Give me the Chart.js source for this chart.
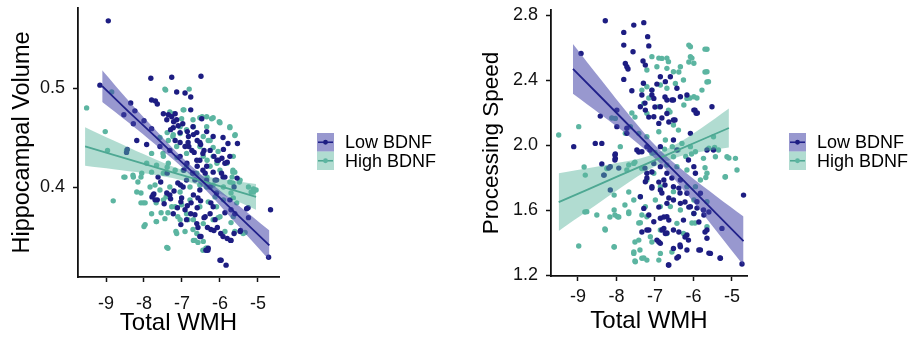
<!DOCTYPE html>
<html><head><meta charset="utf-8">
<script src="https://cdn.jsdelivr.net/npm/chart.js@4.4.1/dist/chart.umd.min.js"></script>
<style>
html,body{margin:0;padding:0;background:#fff;}
#wrap{position:relative;width:918px;height:338px;overflow:hidden;}
canvas{position:absolute;top:0;}
</style>
</head><body>
<div id="wrap">
<canvas id="c1" width="459" height="338" style="left:0px"></canvas>
<canvas id="c2" width="459" height="338" style="left:459px"></canvas>
</div>
<script>
// ---------- categories / labels ----------
const seriesNames = ['Low BDNF', 'High BDNF'];
const xTitle = 'Total WMH';
const yTitleHV = 'Hippocampal Volume';
const yTitlePS = 'Processing Speed';
const xTicks = [-9, -8, -7, -6, -5];
const yTicksHV = [0.4, 0.5];
const yTicksPS = [1.2, 1.6, 2.0, 2.4, 2.8];

// ---------- Hippocampal Volume: points ----------
const hvLow = [[-8.94,.568],[-9.16,.503],[-7.82,.510],[-7.27,.511],[-6.50,.512],[-7.14,.496],[-6.92,.495],[-6.77,.491],[-7.80,.488],[-7.70,.487],[-7.65,.484],[-8.35,.485],[-8.24,.477],[-8.53,.473],[-8.28,.464],[-8.00,.467],[-7.80,.459],[-8.19,.447],[-7.93,.443],[-8.44,.438],[-8.46,.435],[-7.49,.474],[-7.36,.473],[-7.27,.471],[-7.18,.474],[-7.40,.468],[-7.14,.468],[-6.77,.478],[-6.48,.469],[-7.23,.460],[-6.98,.464],[-6.86,.456],[-6.83,.451],[-6.70,.453],[-6.60,.447],[-6.51,.443],[-6.82,.441],[-6.68,.435],[-6.42,.437],[-6.18,.451],[-5.91,.438],[-5.81,.425],[-6.16,.431],[-6.04,.427],[-6.35,.421],[-5.54,.444],[-6.60,.421],[-6.95,.417],[-7.39,.414],[-7.56,.405],[-7.74,.393],[-7.79,.390],[-7.65,.387],[-7.47,.383],[-7.30,.388],[-7.21,.396],[-7.04,.402],[-7.12,.379],[-6.86,.381],[-6.77,.373],[-6.60,.379],[-6.51,.386],[-6.42,.369],[-6.33,.359],[-6.16,.356],[-6.07,.359],[-5.98,.353],[-5.81,.348],[-5.72,.346],[-5.63,.353],[-5.46,.356],[-5.25,.369],[-5.30,.378],[-4.67,.377],[-4.72,.329],[-6.00,.326],[-5.84,.321],[-6.31,.338],[-6.37,.336],[-7.01,.389],[-6.70,.392],[-6.53,.397],[-6.26,.400],[-6.09,.407],[-5.96,.414],[-5.74,.387],[-5.61,.373],[-6.18,.380],[-6.88,.367],[-6.61,.363],[-6.26,.373],[-7.23,.373],[-7.40,.394],[-7.05,.431],[-6.92,.441],[-7.18,.447],[-7.32,.437],[-6.53,.427],[-5.74,.431],[-6.35,.407],[-6.88,.407],[-7.58,.441],[-6.72,.414],[-6.09,.394],[-6.53,.350],[-5.63,.400],
 [-7.22,.466],[-7.10,.462],[-7.30,.458],[-7.05,.455],[-6.35,.456],[-5.92,.450],[-5.79,.444],[-6.71,.461],[-6.61,.455],[-6.84,.445],[-6.53,.445],[-7.05,.445],[-6.74,.437],[-6.45,.434],[-6.26,.437],[-6.08,.427],[-5.95,.429],[-5.87,.424],[-6.61,.427],[-6.87,.424],[-6.45,.417],[-6.18,.415],[-5.92,.410],[-5.55,.409],
 [-7.63,.410],[-7.11,.404],[-6.97,.400],[-6.66,.407],[-6.39,.414],[-6.13,.407],[-5.87,.410],[-7.76,.392],[-7.71,.387],[-7.32,.392],[-7.03,.385],[-6.76,.384],[-6.58,.389],[-6.24,.384],[-6.92,.377],[-6.66,.372],[-6.39,.370],[-6.13,.367],[-5.87,.374],[-5.71,.377],[-5.26,.379],[-7.03,.362],[-6.58,.359],[-6.24,.357],[-5.92,.350],[-5.71,.346],[-6.50,.350],[-6.32,.336],[-5.97,.326],[-5.47,.355]];
const hvHigh = [[-9.51,.480],[-8.85,.496],[-9.02,.456],[-8.96,.437],[-8.81,.386],[-8.46,.437],[-8.53,.410],[-7.93,.424],[-8.06,.414],[-8.02,.384],[-8.00,.360],[-7.67,.365],[-7.43,.498],[-6.81,.499],[-7.23,.474],[-6.95,.478],[-7.01,.469],[-6.53,.470],[-6.35,.471],[-6.22,.469],[-6.02,.466],[-5.74,.461],[-5.60,.453],[-6.70,.461],[-6.88,.458],[-7.23,.453],[-7.36,.447],[-7.14,.441],[-6.44,.451],[-6.31,.447],[-6.05,.436],[-6.44,.431],[-7.49,.431],[-7.67,.422],[-7.80,.415],[-7.36,.424],[-7.49,.414],[-7.18,.417],[-6.88,.421],[-6.61,.414],[-6.26,.421],[-6.00,.417],[-5.61,.415],[-5.49,.405],[-5.25,.400],[-5.05,.397],[-5.74,.405],[-6.18,.402],[-6.53,.402],[-6.79,.400],[-7.05,.395],[-7.32,.400],[-7.58,.397],[-7.84,.400],[-7.49,.387],[-7.27,.380],[-7.01,.382],[-6.79,.387],[-6.53,.380],[-6.31,.385],[-6.09,.380],[-5.91,.387],[-5.65,.389],[-5.56,.384],[-6.88,.373],[-6.70,.367],[-6.44,.363],[-6.18,.367],[-6.00,.370],[-6.61,.353],[-6.70,.346],[-6.44,.345],[-6.35,.338],[-7.14,.353],[-7.40,.339],[-6.92,.355],[-7.80,.373],[-7.45,.368],[-7.05,.367],[-5.65,.370],[-5.39,.353],[-5.12,.395],[-6.18,.431],[-5.65,.431],[-6.88,.434],[-6.53,.441],[-7.58,.450],[-7.05,.454],[-6.35,.461],[-5.82,.424],[-8.28,.410],[-7.80,.434],[-6.35,.400],[-5.91,.400],[-5.12,.398],[-8.19,.395],
 [-7.45,.499],[-6.97,.478],[-7.32,.476],[-6.47,.471],[-6.18,.470],[-6.00,.465],[-5.74,.460],[-5.61,.452],[-6.71,.468],[-7.05,.461],[-7.39,.455],[-7.24,.451],[-6.26,.447],[-6.18,.440],[-7.50,.434],[-7.13,.430],[-6.34,.427],[-6.08,.424],[-5.66,.417],[-7.39,.420],[-6.97,.417],[-6.71,.414],[-6.34,.410],[-5.68,.410],
 [-8.50,.410],[-8.29,.412],[-8.08,.410],[-8.16,.405],[-7.71,.402],[-8.08,.394],[-7.97,.384],[-8.08,.384],[-7.68,.384],[-7.42,.390],[-7.55,.374],[-7.37,.374],[-7.97,.362],[-7.68,.365],[-7.18,.380],[-7.11,.370],[-6.84,.367],[-6.71,.357],[-7.16,.355],[-6.66,.346],[-6.58,.344],[-7.37,.338],[-6.45,.336],[-6.37,.338],[-6.05,.369],[-5.87,.355],[-5.61,.355],[-5.34,.354],[-5.71,.364],[-6.13,.390],[-5.71,.394],[-5.18,.395],[-5.66,.404],[-5.47,.407],[-5.66,.415]];

// ---------- Hippocampal Volume: fitted lines and 95% bands ----------
const hvLowFitX   = [-9.10, -8.40, -7.70, -7.00, -6.30, -5.60, -4.70];
const hvLowFit    = [0.502, 0.476, 0.451, 0.425, 0.400, 0.374, 0.341];
const hvLowUpper  = [0.518, 0.487, 0.458, 0.430, 0.406, 0.384, 0.356];
const hvLowLower  = [0.486, 0.465, 0.443, 0.420, 0.394, 0.364, 0.326];
const hvHighFitX  = [-9.55, -8.80, -8.00, -7.25, -6.50, -5.80, -5.05];
const hvHighFit   = [0.441, 0.4325, 0.4234, 0.4149, 0.4064, 0.3985, 0.390];
const hvHighUpper = [0.4605, 0.447, 0.433, 0.4208, 0.4118, 0.407, 0.403];
const hvHighLower = [0.4215, 0.418, 0.414, 0.409, 0.401, 0.390, 0.377];

// ---------- Processing Speed: points ----------
const psLow = [[-8.29,2.765],[-7.81,2.693],[-7.55,2.738],[-7.29,2.753],[-7.81,2.615],[-7.57,2.574],[-7.19,2.667],[-7.16,2.610],[-8.92,2.564],[-7.77,2.502],[-7.73,2.482],[-7.70,2.468],[-7.81,2.404],[-7.31,2.517],[-7.25,2.492],[-7.60,2.334],[-7.34,2.308],[-7.38,2.236],[-7.25,2.215],[-7.08,2.308],[-7.03,2.287],[-6.86,2.420],[-6.73,2.390],[-6.60,2.420],[-6.43,2.349],[-6.34,2.297],[-6.69,2.277],[-6.52,2.277],[-6.17,2.308],[-6.86,2.236],[-6.69,2.194],[-7.03,2.174],[-6.90,2.133],[-6.52,2.154],[-5.99,2.215],[-5.93,2.195],[-5.52,2.236],[-8.42,2.178],[-7.99,2.215],[-7.99,2.113],[-7.73,2.103],[-7.73,2.072],[-9.11,1.990],[-8.55,2.010],[-8.38,2.010],[-8.03,1.945],[-8.03,1.918],[-8.38,1.883],[-8.33,1.815],[-8.16,1.867],[-7.47,1.969],[-7.34,1.959],[-7.21,1.990],[-6.86,1.990],[-6.43,1.969],[-7.03,1.887],[-6.86,1.867],[-6.69,1.826],[-6.77,1.785],[-7.21,1.826],[-7.25,1.774],[-7.08,1.744],[-6.86,1.723],[-6.52,1.744],[-6.34,1.785],[-5.99,1.867],[-5.95,1.826],[-5.65,1.969],[-6.13,1.908],[-6.17,1.703],[-6.34,1.641],[-6.08,1.620],[-5.91,1.651],[-5.74,1.600],[-5.99,1.579],[-6.69,1.559],[-6.86,1.549],[-7.03,1.528],[-7.21,1.477],[-6.77,1.487],[-6.73,1.456],[-6.52,1.477],[-6.26,1.538],[-6.17,1.446],[-6.13,1.415],[-5.65,1.477],[-5.65,1.426],[-6.95,1.415],[-6.86,1.395],[-6.52,1.364],[-6.34,1.374],[-6.39,1.313],[-6.65,1.262],[-5.82,1.354],[-5.56,1.333],[-5.30,1.303],[-5.26,1.487],[-4.70,1.692],[-4.74,1.268],[-5.48,1.969],[-7.29,1.610],[-6.69,1.641],[-6.52,1.662],[-5.82,1.703],[-7.38,1.682],[-6.08,2.072],[-6.52,2.031],[-8.16,1.723],
 [-7.30,2.380],[-6.95,2.375],[-7.08,2.338],[-6.74,2.296],[-6.56,2.277],[-7.26,2.258],[-7.00,2.234],[-7.16,2.172],[-6.82,2.166],[-6.64,2.142],[-6.48,2.154],[-5.96,2.215],[-5.90,2.197],
 [-8.04,1.938],[-8.04,1.908],[-8.20,1.858],[-7.94,1.858],[-8.32,1.815],[-7.42,1.957],[-7.13,1.969],[-7.26,1.858],[-7.08,1.834],[-7.21,1.797],[-6.90,1.772],[-6.74,1.754],[-6.56,1.797],[-6.38,1.735],[-7.08,1.735],[-6.82,1.705],[-6.64,1.674],[-6.35,1.705],[-6.22,1.649],[-6.12,1.618],[-6.90,1.618],[-6.77,1.557],[-6.64,1.538],[-7.16,1.569],[-7.34,1.465],[-7.16,1.477],[-6.82,1.477],[-6.69,1.459],[-6.38,1.465],[-6.22,1.434],[-6.90,1.403],[-6.35,1.385],[-6.17,1.354],[-5.86,1.354],[-5.60,1.335],[-6.64,1.262],[-6.43,1.305],[-5.86,1.526],[-5.73,1.569],[-5.60,1.588],[-5.91,1.612],[-5.70,1.465],[-5.31,1.305]];
const psHigh = [[-9.50,2.062],[-8.98,2.113],[-8.98,1.379],[-8.81,1.815],[-8.77,1.590],[-8.51,1.569],[-8.29,1.477],[-8.06,1.374],[-8.06,1.600],[-7.97,1.559],[-8.03,2.164],[-7.64,2.113],[-7.77,2.072],[-7.55,1.887],[-7.73,1.846],[-7.68,1.579],[-7.55,1.333],[-7.51,1.282],[-7.34,1.303],[-7.42,1.415],[-7.38,1.522],[-7.21,1.559],[-7.25,1.621],[-7.12,1.436],[-6.90,1.292],[-6.86,1.333],[-7.21,1.292],[-7.08,2.544],[-6.82,2.533],[-6.65,2.513],[-7.21,2.462],[-6.95,2.482],[-6.69,2.472],[-6.52,2.451],[-6.34,2.482],[-6.08,2.605],[-6.08,2.544],[-5.99,2.503],[-5.65,2.589],[-5.65,2.451],[-5.61,2.390],[-7.21,2.359],[-7.08,2.338],[-6.86,2.369],[-6.69,2.349],[-6.47,2.379],[-6.26,2.400],[-6.17,2.287],[-5.99,2.297],[-7.29,2.256],[-7.21,2.195],[-6.90,2.236],[-6.65,2.215],[-6.52,2.123],[-6.39,2.092],[-6.90,2.082],[-6.73,2.031],[-7.21,2.051],[-7.42,2.072],[-6.30,2.010],[-6.08,1.990],[-5.95,1.959],[-5.74,1.918],[-5.43,1.928],[-5.13,1.928],[-4.91,1.918],[-5.35,1.969],[-5.65,1.826],[-6.17,1.846],[-6.43,1.867],[-6.69,1.877],[-7.03,1.826],[-7.34,1.856],[-7.21,1.785],[-6.86,1.744],[-6.52,1.713],[-6.17,1.744],[-5.95,1.744],[-5.82,1.785],[-5.65,1.651],[-5.99,1.579],[-6.34,1.600],[-6.60,1.621],[-6.86,1.621],[-6.99,1.662],[-7.38,1.682],[-7.55,1.662],[-5.17,1.805],[-4.87,1.846],[-5.65,1.497],[-6.26,1.456],[-6.43,1.518],[-6.69,1.456],[-6.86,1.477],[-5.99,1.662],[-7.90,1.990],[-8.25,1.856],[-7.08,1.949],[-6.52,1.928],[-5.48,2.051],
 [-6.12,2.615],[-5.70,2.590],[-6.90,2.535],[-6.69,2.535],[-6.38,2.449],[-6.12,2.511],[-6.04,2.535],[-5.70,2.449],[-5.65,2.388],[-5.78,2.338],[-6.09,2.289],[-5.91,2.289],[-6.25,2.246],[-6.61,2.203],[-7.60,2.197],[-7.34,2.338],[-7.16,2.289],[-7.52,2.172],[-8.12,2.166],
 [-8.84,1.865],[-7.68,1.877],[-7.52,1.895],[-7.34,1.858],[-7.68,1.711],[-8.06,1.692],[-7.78,1.631],[-7.68,1.588],[-8.04,1.569],[-7.94,1.557],[-8.17,1.557],[-8.82,1.588],[-8.30,1.483],[-8.06,1.372],[-7.52,1.403],[-7.39,1.354],[-7.55,1.342],[-7.52,1.286],[-7.29,1.305],[-7.08,1.403],[-6.56,1.342],[-7.42,1.520],[-7.34,1.569],[-6.04,1.520],[-5.96,1.520],[-7.00,1.955],[-6.75,1.975],[-6.55,1.990],[-6.40,1.970],[-5.60,1.980],[-5.45,1.985],[-5.08,1.920],[-5.18,1.803],[-5.70,1.860],[-5.68,1.800],[-6.20,1.930],[-6.05,1.945]];

// ---------- Processing Speed: fitted lines and 95% bands ----------
const psLowFitX   = [-9.13, -8.40, -7.65, -6.90, -6.15, -5.40, -4.70];
const psLowFit    = [2.468, 2.294, 2.114, 1.935, 1.756, 1.577, 1.409];
const psLowUpper  = [2.621, 2.401, 2.178, 1.975, 1.820, 1.684, 1.560];
const psLowLower  = [2.315, 2.186, 2.050, 1.895, 1.692, 1.469, 1.258];
const psHighFitX  = [-9.50, -8.75, -8.00, -7.25, -6.50, -5.80, -5.08];
const psHighFit   = [1.649, 1.726, 1.804, 1.881, 1.959, 2.031, 2.105];
const psHighUpper = [1.827, 1.857, 1.889, 1.926, 1.999, 2.104, 2.225];
const psHighLower = [1.471, 1.595, 1.719, 1.836, 1.919, 1.958, 1.985];

// ---------- styles ----------
const LOW_PT = '#1d1d82', HIGH_PT = '#5cb5a1';
const LOW_LINE = '#20208a', HIGH_LINE = '#4ea893';
const LOW_BAND = 'rgba(68,68,168,0.55)', HIGH_BAND = 'rgba(90,180,158,0.47)';
const FONT = '"Liberation Sans", Arial, Helvetica, sans-serif';

const toPts = arr => arr.map(p => ({x: p[0], y: p[1]}));
const zipXY = (xs, ys) => xs.map((x, i) => ({x, y: ys[i]}));

const keyLegend = {
  id: 'keyLegend',
  afterDraw(chart, args, o) {
    const ctx = chart.ctx;
    ctx.save();
    o.items.forEach((it, i) => {
      const x = o.x, y = o.y + i * o.rowH, cy = y + o.rowH / 2;
      ctx.fillStyle = it.band;
      ctx.fillRect(x, y, o.boxW, o.rowH);
      ctx.strokeStyle = it.line; ctx.lineWidth = 1.6;
      ctx.beginPath(); ctx.moveTo(x + 1, cy); ctx.lineTo(x + o.boxW - 1, cy); ctx.stroke();
      ctx.fillStyle = it.point;
      ctx.beginPath(); ctx.arc(x + o.boxW / 2, cy, 2.4, 0, Math.PI * 2); ctx.fill();
      ctx.fillStyle = '#000';
      ctx.font = o.fontSize + 'px ' + FONT;
      ctx.textBaseline = 'middle'; ctx.textAlign = 'left';
      ctx.fillText(it.label, o.textX, cy + 1);
    });
    ctx.restore();
  }
};

function makePanel(id, d, L) {
  const lineDs = (xs, ys, color) => ({type: 'line', data: zipXY(xs, ys), borderColor: color, borderWidth: 1.8, pointRadius: 0, fill: false, tension: 0, order: 0});
  const bandDs = (xs, ys, fill, color) => ({type: 'line', data: zipXY(xs, ys), borderColor: 'rgba(0,0,0,0)', borderWidth: 0, backgroundColor: color, pointRadius: 0, fill: fill, tension: 0.35, order: 1});
  const ptDs = (pts, color, label) => ({type: 'scatter', label, data: toPts(pts), backgroundColor: color, borderWidth: 0, pointRadius: 2.7, pointHoverRadius: 2.7, order: 2});
  const datasets = [
    lineDs(d.lowX, d.lowFit, LOW_LINE),
    lineDs(d.highX, d.highFit, HIGH_LINE),
    bandDs(d.lowX, d.lowUp, '+1', LOW_BAND),
    bandDs(d.lowX, d.lowLo, false, LOW_BAND),
    bandDs(d.highX, d.highUp, '+1', HIGH_BAND),
    bandDs(d.highX, d.highLo, false, HIGH_BAND),
    ptDs(d.low, LOW_PT, seriesNames[0]),
    ptDs(d.high, HIGH_PT, seriesNames[1])
  ];
  const zeroPad = s => { s.paddingTop = 0; s.paddingBottom = 0; s.paddingLeft = 0; s.paddingRight = 0; };
  new Chart(document.getElementById(id), {
    type: 'scatter',
    data: {datasets},
    plugins: [keyLegend],
    options: {
      responsive: false, animation: false, events: [],
      layout: {padding: {top: L.top, right: L.right, left: 0, bottom: 0}},
      plugins: {
        legend: {display: false}, tooltip: {enabled: false},
        keyLegend: {x: L.legX, y: 133, rowH: 18.5, boxW: 17, textX: L.legX + 28, fontSize: 18,
          items: [
            {label: seriesNames[0], band: LOW_BAND, line: LOW_LINE, point: LOW_PT},
            {label: seriesNames[1], band: HIGH_BAND, line: HIGH_LINE, point: HIGH_PT}
          ]}
      },
      scales: {
        x: {
          type: 'linear', min: d.xMin, max: d.xMax,
          afterBuildTicks: s => { s.ticks = xTicks.map(v => ({value: v})); },
          afterFit: s => { s.height = L.xH; zeroPad(s); },
          ticks: {font: {family: FONT, size: 18}, color: '#111', padding: L.xTickPad, maxRotation: 0, autoSkip: false, callback: v => String(v)},
          grid: {drawOnChartArea: false, drawTicks: true, tickLength: 5, tickColor: '#111', tickWidth: 1.5},
          border: {display: true, color: '#111', width: 1.8},
          title: {display: true, text: xTitle, color: '#000', font: {family: FONT, size: 24}, padding: {top: 0, bottom: L.xTitlePad}}
        },
        y: {
          type: 'linear', min: d.yMin, max: d.yMax,
          afterBuildTicks: s => { s.ticks = d.yTicks.map(v => ({value: v})); },
          afterFit: s => { s.width = L.yW; zeroPad(s); },
          ticks: {font: {family: FONT, size: 18}, color: '#111', padding: 8, autoSkip: false, callback: v => v.toFixed(1)},
          grid: {drawOnChartArea: false, drawTicks: true, tickLength: 5, tickColor: '#111', tickWidth: 1.5},
          border: {display: true, color: '#111', width: 1.8},
          title: {display: true, text: d.yTitle, color: '#000', font: {family: FONT, size: L.yTitleSize}, padding: {top: L.yTitlePad, bottom: 0}}
        }
      }
    }
  });
}

makePanel('c1', {
  low: hvLow, high: hvHigh,
  lowX: hvLowFitX, lowFit: hvLowFit, lowUp: hvLowUpper, lowLo: hvLowLower,
  highX: hvHighFitX, highFit: hvHighFit, highUp: hvHighUpper, highLo: hvHighLower,
  xMin: -9.737, xMax: -4.447, yMin: 0.309, yMax: 0.581, yTicks: yTicksHV, yTitle: yTitleHV
}, {top: 8, right: 180, xH: 61, yW: 78, legX: 317, xTickPad: 11, xTitlePad: 0, yTitleSize: 23.5, yTitlePad: 8});

makePanel('c2', {
  low: psLow, high: psHigh,
  lowX: psLowFitX, lowFit: psLowFit, lowUp: psLowUpper, lowLo: psLowLower,
  highX: psHighFitX, highFit: psHighFit, highUp: psHighUpper, highLo: psHighLower,
  xMin: -9.70, xMax: -4.61, yMin: 1.194, yMax: 2.831, yTicks: yTicksPS, yTitle: yTitlePS
}, {top: 10, right: 171, xH: 62, yW: 92, legX: 330, xTickPad: 5, xTitlePad: 2, yTitleSize: 22.5, yTitlePad: 19});
</script>
</body></html>
